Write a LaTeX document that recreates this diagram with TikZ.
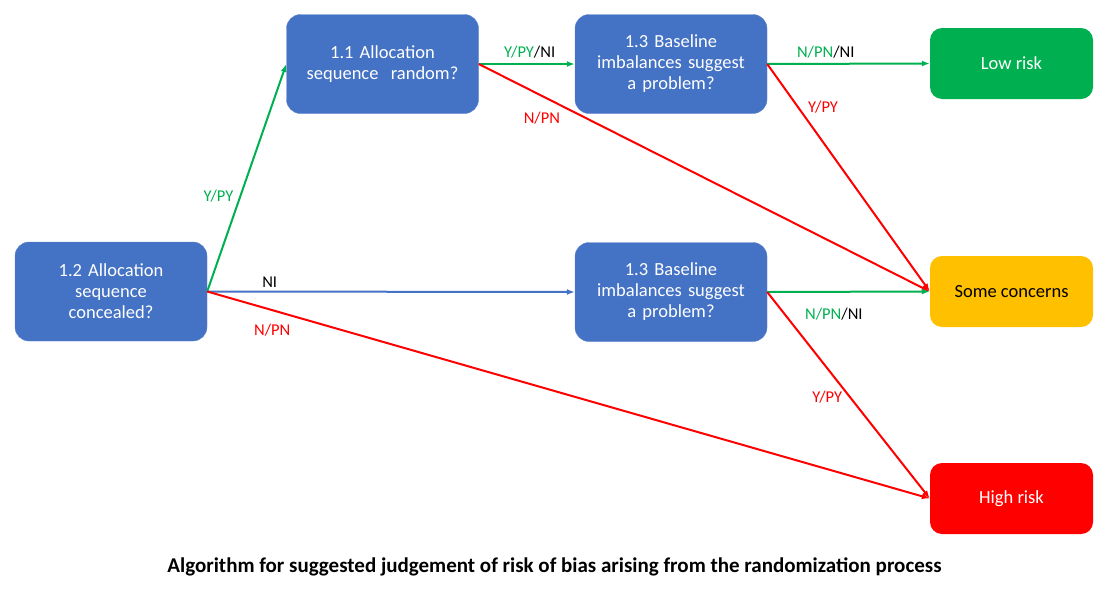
\documentclass[tikz,border=0pt]{standalone}
\usepackage{fontspec}
\setmainfont{Carlito}
\usepackage{tikz}
\usetikzlibrary{arrows.meta}

\definecolor{qblue}{HTML}{4472C4}
\definecolor{lowgreen}{HTML}{00B050}
\definecolor{midorange}{HTML}{FFC000}
\definecolor{highred}{HTML}{FF0000}

\begin{document}
\begin{tikzpicture}[x=1pt,y=-1pt,>={Latex[length=8pt,width=6pt]},
  question/.style={rectangle,rounded corners=14pt,fill=qblue,draw=qblue!85!white,text=white,minimum width=192pt,minimum height=99pt,text width=185pt,align=center,inner sep=0pt,font=\fontsize{18.5}{21}\selectfont},
  judgement/.style={rectangle,rounded corners=12pt,minimum width=163pt,minimum height=71pt,align=center,inner sep=0pt,font=\fontsize{18.5}{21}\selectfont},
  answer/.style={font=\fontsize{16.5}{18}\selectfont,inner sep=1pt},
  path/.style={->,line width=2pt}]
          \useasboundingbox (0,0) rectangle (1116,592);
          % questions
          \node[question] (q12) at (111,291.5) {1.2 Allocation\\sequence\\concealed?};
          \node[question] (q11) at (382.5,64) {1.1 Allocation\\sequence~ random?\\[21pt]};
          \node[question] (q13a) at (671,64) {1.3 Baseline\\imbalances suggest\\a problem?};
          \node[question] (q13b) at (671,292) {1.3 Baseline\\imbalances suggest\\a problem?};
          % judgements
          \node[judgement, fill=lowgreen, text=white] (low) at (1011.5,63.5) {Low risk};
          \node[judgement, fill=midorange, text=black] (some) at (1011.5,291.5) {Some concerns};
          \node[judgement, fill=highred, text=white] (high) at (1011.5,498.5) {High risk};
          % connectors
          \draw[path, color=lowgreen] (q12.east) -- (q11.west) node[answer, pos=0.42, left=5pt] (a1) {Y/PY};
          \draw[path, color=qblue] (q12.east) -- (q13b.west) node[answer, pos=0.17, above=2pt, text=black] (a2) {NI};
          \draw[path, color=highred] (q12.east) -- (high.west) node[answer, pos=0.09, below=12pt] (a3) {N/PN};
          \draw[path, color=lowgreen] (q11.east) -- (q13a.west) node[answer, pos=0.53, above=4pt] (a4) {Y/PY{\color{black}/NI}};
          \draw[path, color=highred] (q11.east) -- (some.west) node[answer, pos=0.14, below=14pt] (a5) {N/PN};
          \draw[path, color=lowgreen] (q13a.east) -- (low.west) node[answer, pos=0.36, above=4pt] (a6) {N/PN{\color{black}/NI}};
          \draw[path, color=highred] (q13a.east) -- (some.west) node[answer, pos=0.19, right=8pt] (a7) {Y/PY};
          \draw[path, color=lowgreen] (q13b.east) -- (some.west) node[answer, pos=0.41, below=14pt] (a8) {N/PN{\color{black}/NI}};
          \draw[path, color=highred] (q13b.east) -- (high.west) node[answer, pos=0.51, left=6pt] (a9) {Y/PY};
          % caption
          \node[font=\fontsize{21}{24}\selectfont\bfseries] (title) at (554.5,567) {Algorithm for suggested judgement of risk of bias arising from the randomization process};
        \end{tikzpicture}
\end{document}
